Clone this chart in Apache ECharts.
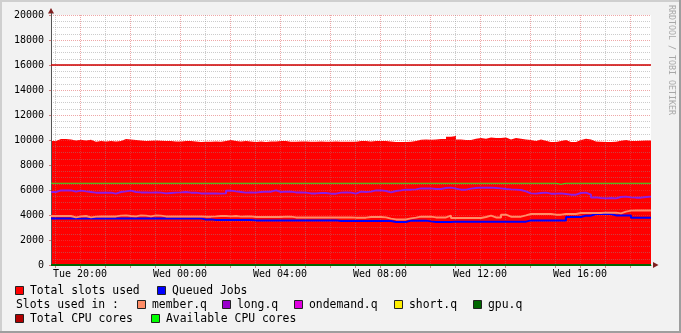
<!DOCTYPE html>
<html><head><meta charset="utf-8">
<script src="https://cdn.jsdelivr.net/npm/echarts@6/dist/echarts.min.js"></script>
<style>html,body{margin:0;padding:0;background:#f2f2f2}#c{width:681px;height:333px}</style>
</head><body><div id="c"></div>
<script>
// time: hours since Tue 00:00; samples every 12 minutes starting Tue 18:50
const startHour = 18.84;
const stepHours = 0.2;

const totalSlotsUsed = [
 9920,10080,10080,10050,9970,10030,9970,10030,9870,9920,
 9890,9920,9890,9920,10080,10050,10000,9970,9920,9950,
 9970,9950,9920,9920,9890,9890,9920,9920,9890,9840,
 9870,9870,9890,9870,9920,10000,9920,9890,9920,9890,
 9840,9890,9840,9890,9890,9920,9920,9870,9870,9890,
 9890,9870,9870,9890,9870,9870,9890,9870,9870,9870,
 9870,9920,9920,9890,9920,9920,9920,9890,9840,9840,
 9840,9870,9920,10030,10050,10030,10050,10080,10080,10270,
 10320,10050,10000,10000,10110,10160,10110,10210,10160,10160,
 10210,10050,10160,10110,10050,10000,9920,10050,9950,9840,
 9840,9920,10000,9840,9840,10000,10110,10050,9890,9870,
 9840,9840,9870,9950,10000,9920,9920,9950,9970,9970];

const queuedJobs = [
 3730,3730,3730,3730,3730,3710,3730,3710,3730,3730,
 3730,3730,3730,3730,3730,3730,3730,3730,3730,3730,
 3730,3730,3730,3730,3730,3730,3730,3730,3730,3730,
 3630,3650,3600,3600,3600,3600,3600,3600,3600,3600,
 3570,3570,3570,3570,3570,3570,3570,3570,3570,3570,
 3570,3570,3570,3570,3570,3570,3570,3520,3520,3520,
 3520,3520,3520,3520,3520,3520,3520,3520,3440,3440,
 3440,3550,3550,3550,3550,3490,3440,3440,3440,3440,
 3470,3470,3470,3470,3470,3470,3470,3470,3470,3470,
 3470,3470,3470,3470,3470,3570,3570,3570,3570,3570,
 3570,3570,3570,3840,3840,3840,3950,3950,4080,4080,
 4080,4080,3970,3970,3970,3970,3790,3790,3790,3790];

const memberQ = [
 3920,3920,3920,3920,3810,3890,3920,3810,3870,3890,
 3890,3890,3890,3950,3970,3920,3890,3970,3950,3890,
 3970,3950,3890,3890,3890,3890,3890,3890,3890,3890,
 3870,3870,3890,3920,3920,3890,3920,3870,3890,3890,
 3840,3840,3840,3840,3840,3840,3870,3870,3810,3810,
 3810,3810,3810,3810,3810,3810,3810,3810,3810,3810,
 3790,3790,3790,3840,3840,3840,3810,3710,3650,3650,
 3650,3730,3790,3870,3870,3870,3810,3810,3810,3950,
 3760,3760,3760,3760,3760,3760,3840,3950,3810,3810,
 4030,3870,3870,3870,3970,4080,4080,4080,4080,4080,
 4030,4030,4080,4080,4080,4160,4160,4160,4160,4160,
 4190,4190,4190,4130,4270,4350,4370,4370,4370,4370];

const longQ = [
 5840,5970,5970,5970,5870,5950,5890,5840,5790,5790,
 5790,5790,5710,5840,5890,5950,5840,5810,5810,5790,
 5810,5790,5730,5760,5790,5810,5840,5790,5790,5730,
 5730,5730,5730,5710,5730,5950,5890,5840,5790,5810,
 5790,5840,5870,5870,5970,5840,5870,5870,5810,5810,
 5790,5730,5730,5760,5760,5710,5710,5790,5810,5790,
 5710,5870,5840,5870,5970,5970,5920,5810,5920,5970,
 6030,6030,6050,6130,6130,6130,6080,6080,6160,6190,
 6110,6030,6030,6110,6160,6190,6190,6190,6160,6130,
 6080,6050,6030,6000,5890,5730,5710,5760,5790,5710,
 5710,5730,5680,5630,5630,5760,5790,5630,5410,5360,
 5330,5360,5330,5440,5470,5410,5390,5390,5440,5470];

const gpuQ = [
 0,0,0,0,0,0,0,0,0,0, 0,0,0,0,0,0,0,0,0,0, 0,0,0,0,0,0,0,0,0,0,
 0,0,0,0,0,0,0,0,0,0, 0,0,0,0,0,0,0,0,0,0, 0,0,0,0,0,0,0,0,0,0,
 0,0,0,0,0,0,0,0,0,0, 0,0,0,0,0,0,0,0,0,0, 0,0,0,0,0,0,0,0,0,0,
 0,0,0,0,0,0,0,0,0,0, 0,0,0,0,0,0,0,0,0,0, 0,0,0,0,0,0,0,0,0,0];

const totalCpuCores = [
 16000,16000,16000,16000,16000,16000,16000,16000,16000,16000,
 16000,16000,16000,16000,16000,16000,16000,16000,16000,16000,
 16000,16000,16000,16000,16000,16000,16000,16000,16000,16000,
 16000,16000,16000,16000,16000,16000,16000,16000,16000,16000,
 16000,16000,16000,16000,16000,16000,16000,16000,16000,16000,
 16000,16000,16000,16000,16000,16000,16000,16000,16000,16000,
 16000,16000,16000,16000,16000,16000,16000,16000,16000,16000,
 16000,16000,16000,16000,16000,16000,16000,16000,16000,16000,
 16000,16000,16000,16000,16000,16000,16000,16000,16000,16000,
 16000,16000,16000,16000,16000,16000,16000,16000,16000,16000,
 16000,16000,16000,16000,16000,16000,16000,16000,16000,16000,
 16000,16000,16000,16000,16000,16000,16000,16000,16000,16000];

const availableCpuCores = [
 6540,6540,6540,6540,6540,6540,6540,6540,6540,6540,
 6540,6540,6540,6540,6540,6540,6540,6540,6540,6540,
 6540,6540,6540,6540,6540,6540,6540,6540,6540,6540,
 6540,6540,6540,6540,6540,6540,6540,6540,6540,6540,
 6540,6540,6540,6540,6540,6540,6540,6540,6540,6540,
 6540,6540,6540,6540,6540,6540,6540,6540,6540,6540,
 6540,6540,6540,6540,6540,6540,6540,6540,6540,6540,
 6540,6540,6540,6540,6540,6540,6540,6540,6540,6540,
 6540,6540,6540,6540,6540,6540,6540,6540,6540,6540,
 6540,6540,6540,6540,6540,6540,6540,6540,6540,6540,
 6540,6460,6540,6540,6540,6540,6540,6540,6540,6540,
 6540,6540,6540,6540,6540,6540,6540,6540,6540,6540];

const gridHours = [19,20,21,22,23,24,25,26,27,28,29,30,31,32,33,34,35,36,37,38,39,40,41,42];
const xLabelHours = [20,24,28,32,36,40];
const xLabels = ['Tue 20:00','Wed 00:00','Wed 04:00','Wed 08:00','Wed 12:00','Wed 16:00'];

const legendRows = [
  [{t:'Total slots used', c:'#ff0000', x:15}, {t:'Queued Jobs', c:'#0000ff', x:157}],
  [{t:'member.q', c:'#ff8c66', x:137}, {t:'long.q', c:'#9900cc', x:222}, {t:'ondemand.q', c:'#e000e0', x:294}, {t:'short.q', c:'#ffee00', x:394}, {t:'gpu.q', c:'#006600', x:473}],
  [{t:'Total CPU cores', c:'#b00000', x:15}, {t:'Available CPU cores', c:'#00ff00', x:151}]
];

const MONO = "'DejaVu Sans Mono', monospace";

function toPairs(vals) {
  const out = vals.map((v, i) => [startHour + i * stepHours, v]);
  out.push([startHour + vals.length * stepHours, vals[vals.length - 1]]);
  return out;
}

const chart = echarts.init(document.getElementById('c'), null, {renderer: 'canvas'});

const graphics = [];
// frame
graphics.push({type:'rect', shape:{x:0,y:0,width:681,height:2}, style:{fill:'#cfcfcf'}, silent:true});
graphics.push({type:'rect', shape:{x:0,y:0,width:2,height:333}, style:{fill:'#cfcfcf'}, silent:true});
graphics.push({type:'rect', shape:{x:0,y:331,width:681,height:2}, style:{fill:'#9e9e9e'}, silent:true});
graphics.push({type:'rect', shape:{x:679,y:0,width:2,height:333}, style:{fill:'#9e9e9e'}, silent:true});
// arrows
graphics.push({type:'polygon', shape:{points:[[48,13.5],[54,13.5],[51,8]]}, style:{fill:'#801f1f'}, z:10});
graphics.push({type:'line', shape:{x1:51.5,y1:13,x2:51.5,y2:15}, style:{stroke:'#555', lineWidth:1}, z:10});
graphics.push({type:'polygon', shape:{points:[[653,262],[653,268],[658.5,265]]}, style:{fill:'#801f1f'}, z:10});
// watermark
graphics.push({type:'text', x:675, y:5, rotation:-Math.PI/2,
  style:{text:'RRDTOOL / TOBI OETIKER', fill:'#a8a8a8', fontSize:8.3, fontFamily:MONO, align:'left', verticalAlign:'top', textAlign:'left', textVerticalAlign:'top'}});
// legend
const rowY = [291, 305, 319];
legendRows.forEach((row, r) => {
  row.forEach(item => {
    graphics.push({type:'rect', shape:{x:item.x + 0.5, y:rowY[r] - 4.5, width:8, height:8}, style:{fill:item.c, stroke:'#222', lineWidth:1}});
    graphics.push({type:'text', x:item.x + 15, y:rowY[r], style:{text:item.t, fill:'#000', fontSize:11.4, fontFamily:MONO, align:'left', verticalAlign:'middle', textAlign:'left', textVerticalAlign:'middle'}});
  });
});
graphics.push({type:'text', x:16, y:rowY[1], style:{text:'Slots used in :', fill:'#000', fontSize:11.4, fontFamily:MONO, align:'left', verticalAlign:'middle', textAlign:'left', textVerticalAlign:'middle'}});

function lineSeries(name, vals, color, width, z) {
  return {name, type:'line', step:'end', data:toPairs(vals), symbol:'none', showSymbol:false,
    lineStyle:{color, width}, itemStyle:{color}, z, animation:false};
}

chart.setOption({
  animation:false,
  backgroundColor:'#f2f2f2',
  grid:{left:51, right:30, top:15, bottom:68, show:true, backgroundColor:'#ffffff', borderWidth:0, z:0},
  xAxis:{
    type:'value', min:startHour, max:startHour + 24, z:10,
    axisLine:{show:true, lineStyle:{color:'#555', width:1}},
    axisTick:{show:true, length:3, customValues:gridHours, lineStyle:{color:'#d08080'}},
    axisLabel:{customValues:xLabelHours, fontFamily:MONO, fontSize:10, color:'#000', margin:4,
      formatter:(v) => { const k = xLabelHours.indexOf(Math.round(v)); return k >= 0 ? xLabels[k] : ''; }},
    splitLine:{show:true, lineStyle:{color:['rgba(143,143,143,0.45)','rgba(222,79,79,0.5)'], type:[1,1], width:1}}
  },
  yAxis:{
    type:'value', min:0, max:20000, interval:2000, z:10,
    axisLine:{show:true, lineStyle:{color:'#555', width:1}},
    axisTick:{show:true, length:2, lineStyle:{color:'#d08080'}},
    axisLabel:{fontFamily:MONO, fontSize:10, color:'#000', margin:7, formatter:(v) => String(v)},
    splitLine:{show:true, lineStyle:{color:'rgba(222,79,79,0.5)', type:[1,1], width:1}},
    minorTick:{show:false, splitNumber:4},
    minorSplitLine:{show:true, lineStyle:{color:'rgba(143,143,143,0.45)', type:[1,1], width:1}}
  },
  graphic:graphics,
  series:[
    {name:'Total slots used', type:'line', step:'end', data:toPairs(totalSlotsUsed), symbol:'none', showSymbol:false,
      lineStyle:{width:0, color:'#ff0000'}, areaStyle:{color:'#ff0000', opacity:1}, z:1, animation:false},
    lineSeries('Total CPU cores', totalCpuCores, '#cc0000', 1.5, 12),
    lineSeries('Available CPU cores', availableCpuCores, '#22ee22', 1, 12),
    lineSeries('long.q', longQ, '#8a1ee6', 2, 12),
    lineSeries('Queued Jobs', queuedJobs, '#0000ff', 2, 12),
    lineSeries('member.q', memberQ, '#ff8c66', 2, 12),
    lineSeries('gpu.q', gpuQ, '#006600', 2, 12)
  ]
});
</script></body></html>
